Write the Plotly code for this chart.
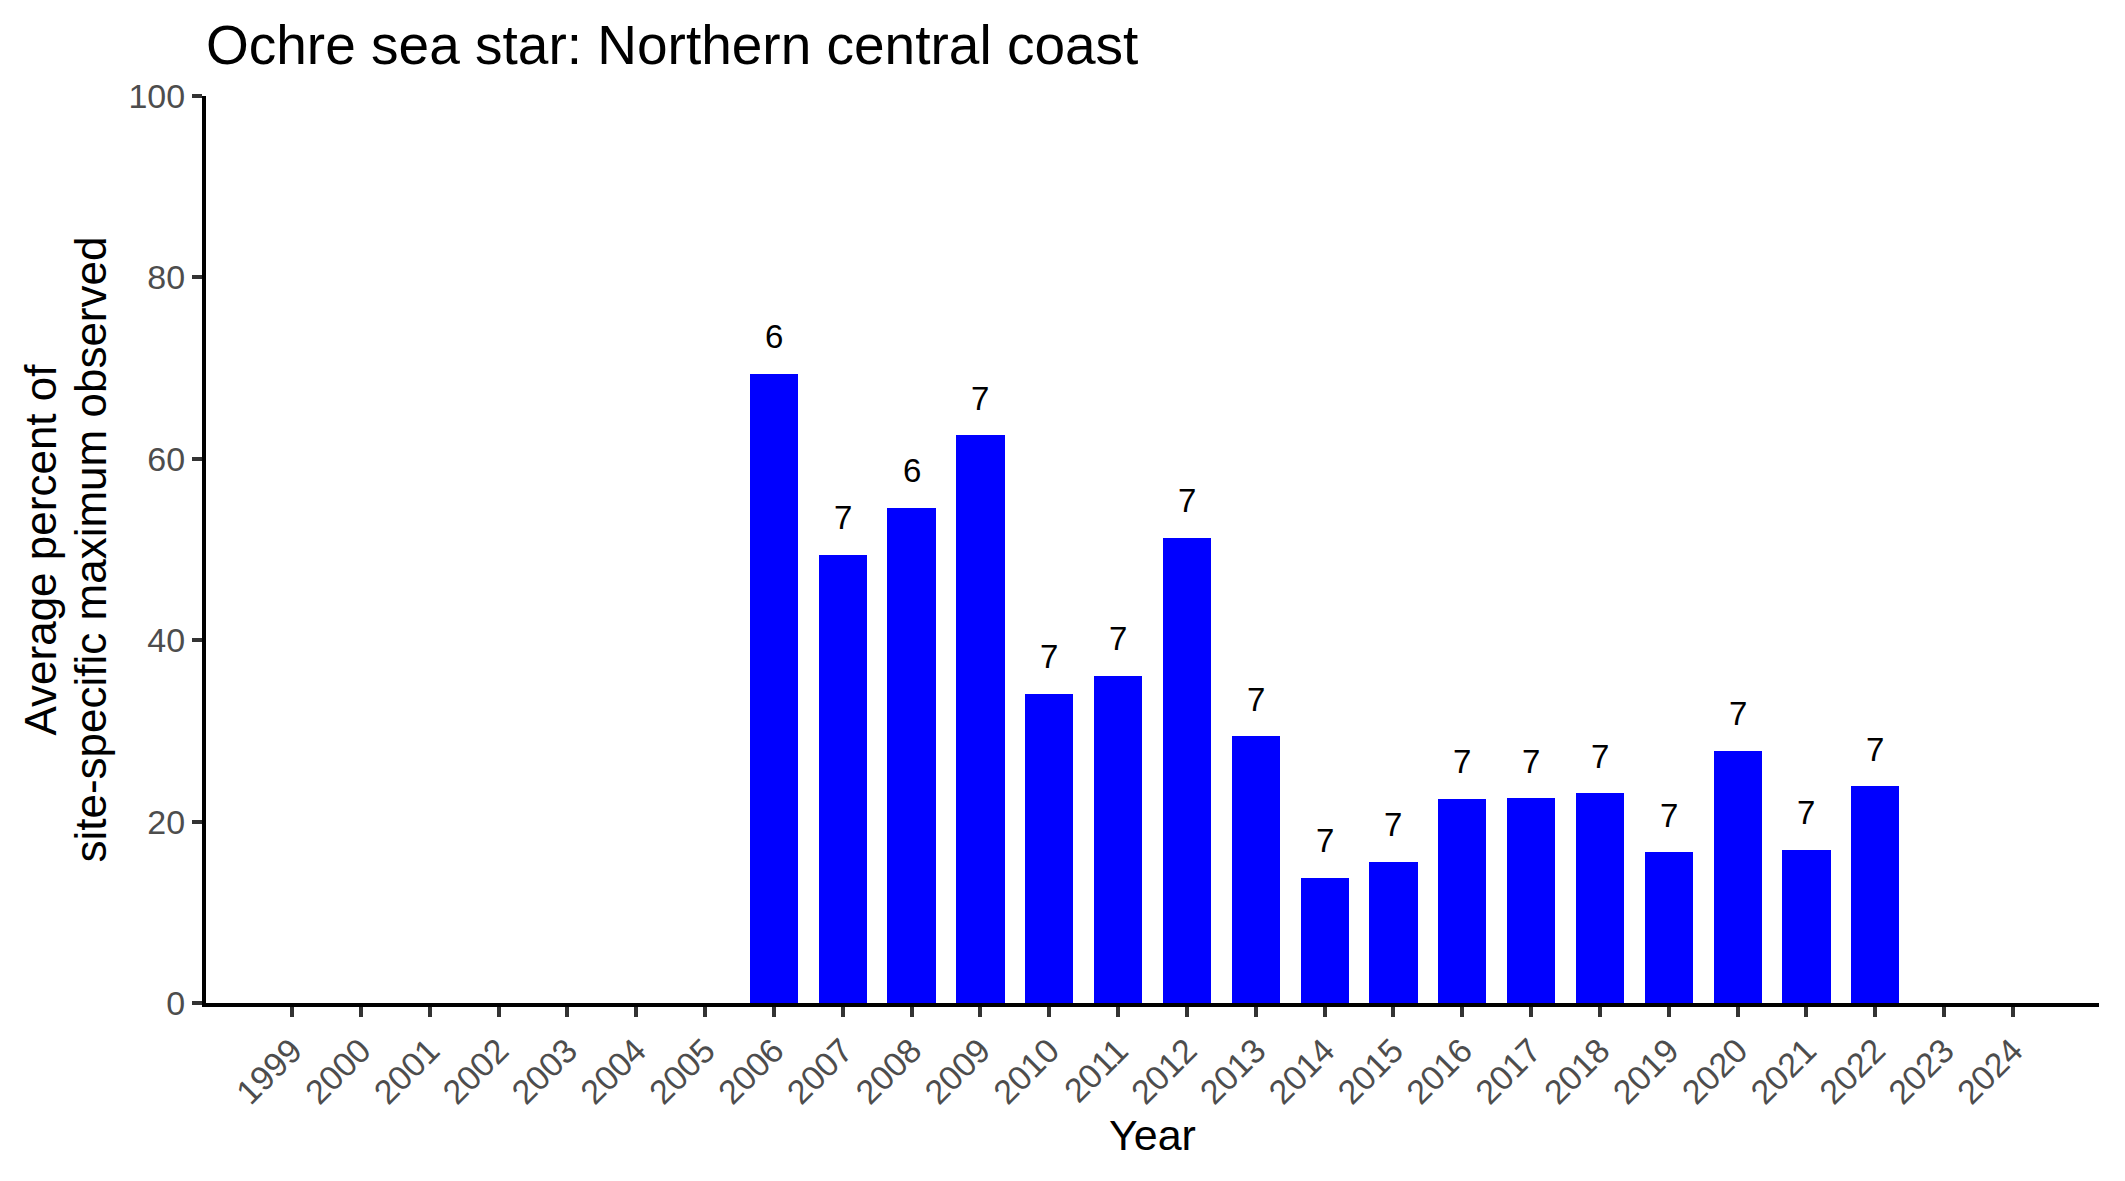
import plotly.graph_objects as go

all_years = list(range(1999, 2025))
bar_years = list(range(2006, 2023))
values = [69.4, 49.4, 54.6, 62.6, 34.1, 36.1, 51.3, 29.4, 13.8, 15.6,
          22.5, 22.6, 23.1, 16.6, 27.8, 16.9, 23.9]
counts = [6, 7, 6, 7, 7, 7, 7, 7, 7, 7, 7, 7, 7, 7, 7, 7, 7]
y_ticks = [0, 20, 40, 60, 80, 100]

title_text = "Ochre sea star: Northern central coast"
x_title = "Year"
y_title_lines = ["Average percent of", "site-specific maximum observed"]

FONT = "Liberation Sans, Arial, sans-serif"
W, H = 2125, 1181
L, R, T, B = 206, 26, 96, 178

fig = go.Figure()
fig.add_trace(go.Bar(
    x=bar_years, y=values, width=0.7,
    marker=dict(color="#0000FF", line=dict(width=0)),
    hoverinfo="x+y", showlegend=False,
))

for yr, v, n in zip(bar_years, values, counts):
    fig.add_annotation(x=yr, y=v, text=str(n), showarrow=False,
                       yshift=37, yanchor="middle", xanchor="center",
                       font=dict(family=FONT, size=33, color="black"))

# y-axis title, two lines
for line, cx in zip(y_title_lines, [40, 90]):
    fig.add_annotation(xref="paper", yref="paper", x=0, y=0.5,
                       xshift=cx - L, xanchor="center", yanchor="middle",
                       text=line, textangle=-90, showarrow=False,
                       font=dict(family=FONT, size=44, color="black"))

fig.update_layout(
    width=W, height=H,
    margin=dict(l=L, r=R, t=T, b=B, pad=0),
    paper_bgcolor="white", plot_bgcolor="white",
    font=dict(family=FONT),
    title=dict(text=title_text, x=L / W, xanchor="left", xref="container",
               y=1 - 45 / H, yanchor="middle", yref="container",
               font=dict(family=FONT, size=55, color="black")),
    bargap=0,
)

fig.update_xaxes(
    range=[1997.75, 2025.25], tickmode="array", tickvals=all_years,
    ticktext=[str(y) for y in all_years], tickangle=-45,
    ticks="outside", ticklen=10, tickwidth=3.5, tickcolor="#333333",
    showline=True, linecolor="black", linewidth=4,
    showgrid=False, zeroline=False,
    tickfont=dict(family=FONT, size=34, color="#4d4d4d"),
    title=dict(text=x_title, font=dict(family=FONT, size=43, color="black"), standoff=9),
)
fig.update_yaxes(
    range=[0, 100], tickmode="array", tickvals=y_ticks,
    ticks="outside", ticklen=10, tickwidth=3.5, tickcolor="#333333",
    showline=True, linecolor="black", linewidth=4,
    showgrid=False, zeroline=False,
    tickfont=dict(family=FONT, size=34, color="#4d4d4d"),
)

fig.write_html("out.html")
